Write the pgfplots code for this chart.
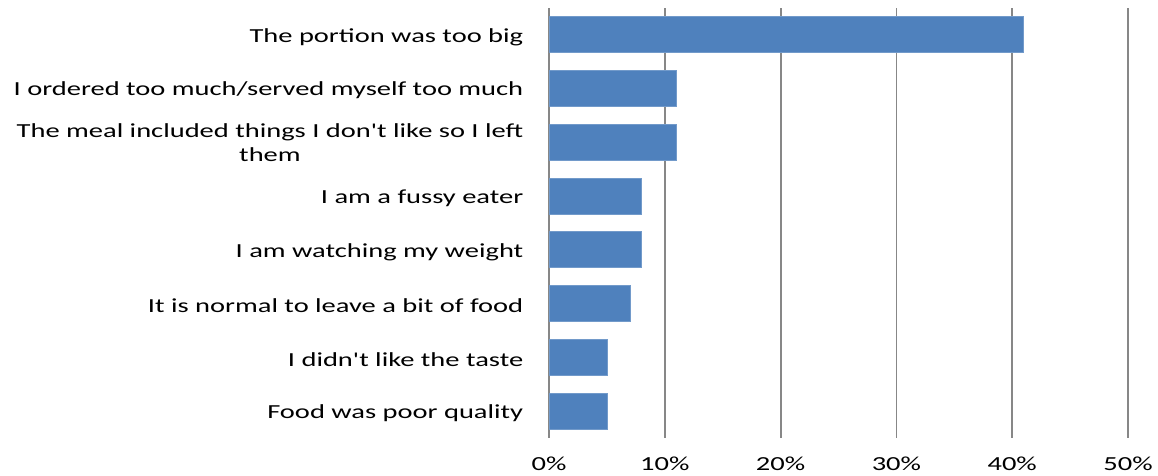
\documentclass[border=0pt]{standalone}
\usepackage{pgfplots}
\pgfplotsset{compat=1.18}
\usepackage{fontspec}
\setmainfont{Carlito}
\definecolor{barblue}{HTML}{4F81BD}
\definecolor{gridgray}{HTML}{878787}
\newcommand{\W}[1]{\scalebox{1.43}[1]{#1}}
\begin{document}
\begin{tikzpicture}
\useasboundingbox (0,0) rectangle (1158bp,476bp);
\begin{axis}[
  at={(549bp,38bp)}, anchor=south west,
  scale only axis, width=579bp, height=430bp,
  xbar, bar width=36bp, bar shift=0pt,
  xmin=0, xmax=50, ymin=-0.5, ymax=7.5,
  y dir=reverse,
  xtick={0,10,20,30,40,50},
  xticklabels={\W{0\%},\W{10\%},\W{20\%},\W{30\%},\W{40\%},\W{50\%}},
  ytick={0,...,7},
  yticklabels={\W{The portion was too big},\W{I ordered too much/served myself too much},{\W{\begin{tabular}{@{}c@{}}The meal included things I don\textquotesingle t like so I left\\them\end{tabular}}},\W{I am a fussy eater},\W{I am watching my weight},\W{It is normal to leave a bit of food},\W{I didn\textquotesingle t like the taste},\W{Food was poor quality}},
  xmajorgrids, major grid style={gridgray, line width=1.8bp},
  axis line style={draw=none}, tick style={draw=none},
  every tick label/.style={font=\fontsize{20}{24}\selectfont},
  yticklabel style={xshift=-18bp, yshift=-2bp},
  xticklabel style={yshift=-15bp},
]
\addplot[fill=barblue, draw=barblue!80!white, line width=0.8bp] coordinates {
 (41,0) (11,1) (11,2) (8,3) (8,4) (7,5) (5,6) (5,7)};
\end{axis}
\end{tikzpicture}
\end{document}
